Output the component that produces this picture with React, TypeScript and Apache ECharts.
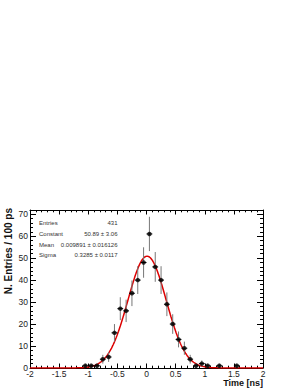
import React, { useEffect, useRef } from "react";
import * as echarts from "echarts";

const binCenters = [-1.05, -0.95, -0.85, -0.75, -0.65, -0.55, -0.45, -0.35, -0.25, -0.15, -0.05, 0.05, 0.15, 0.25, 0.35, 0.45, 0.55, 0.65, 0.75, 0.85, 0.95, 1.05, 1.25, 1.55];
const counts = [1, 1, 1, 4, 5, 16, 27, 26, 34, 40, 48, 61, 46, 40, 29, 20, 13, 9, 4, 1, 2, 1, 1, 1];
const errors = [1, 1, 1, 2, 2.24, 4, 5.2, 5.1, 5.83, 6.32, 6.93, 7.81, 6.78, 6.32, 5.39, 4.47, 3.61, 3, 2, 1, 1.41, 1, 1, 1];
const binHalfWidth = 0.05;

const xTickLabels = ["-2", "-1.5", "-1", "-0.5", "0", "0.5", "1", "1.5", "2"];

const statNames = ["Entries", "Constant", "Mean", "Sigma"];
const statValues = ["431", "50.89 \u00b1 3.06", "0.009891 \u00b1 0.016126", "0.3285 \u00b1 0.0117"];

// Gaussian fit parameters (from the stats box)
const fitConstant = 50.89;
const fitMean = 0.009891;
const fitSigma = 0.3285;

const FONT = "'Liberation Sans', Arial, Helvetica, sans-serif";

function fitCurve(): number[][] {
  const pts: number[][] = [];
  for (let i = 0; i <= 400; i++) {
    const x = -2 + i * 0.01;
    const z = (x - fitMean) / fitSigma;
    pts.push([x, fitConstant * Math.exp(-0.5 * z * z)]);
  }
  return pts;
}

export default function App() {
  const ref = useRef<HTMLDivElement>(null);
  useEffect(() => {
    if (!ref.current) return;
    const chart = echarts.init(ref.current, null, { renderer: "svg" });
    const points = binCenters.map((x, i) => [x, counts[i], errors[i]]);
    const statRowsY = [223.3, 234.2, 244.8, 255.4];
    const graphics: any[] = [];
    statNames.forEach((n, i) => {
      graphics.push({
        type: "text",
        x: 39,
        y: statRowsY[i],
        style: { text: n, fontSize: 6, fontFamily: FONT, fill: "#333", align: "left", verticalAlign: "middle" },
      });
      graphics.push({
        type: "text",
        x: 117.5,
        y: statRowsY[i],
        style: { text: statValues[i], fontSize: 6, fontFamily: FONT, fill: "#333", align: "right", verticalAlign: "middle" },
      });
    });
    graphics.push({
      type: "text",
      x: 8,
      y: 208,
      rotation: Math.PI / 2,
      style: { text: "N. Entries / 100 ps", fontSize: 10, fontWeight: "bold", fontFamily: FONT, fill: "#111", align: "right", verticalAlign: "middle" },
    });
    graphics.push({
      type: "text",
      x: 263,
      y: 382.8,
      style: { text: "Time [ns]", fontSize: 9, fontWeight: "bold", fontFamily: FONT, fill: "#111", align: "right", verticalAlign: "middle" },
    });

    const xCommon = {
      type: "value",
      min: -2,
      max: 2,
      interval: 0.5,
      splitLine: { show: false },
      axisLine: { show: true, onZero: false, lineStyle: { color: "#000", width: 1 } },
      axisTick: { show: true, inside: true, length: 4.5, lineStyle: { color: "#000", width: 1 } },
      minorTick: { show: true, splitNumber: 5, length: 2.3, lineStyle: { color: "#000", width: 1 } },
    };
    const yCommon = {
      type: "value",
      min: 0,
      max: 71.9,
      interval: 10,
      splitLine: { show: false },
      axisLine: { show: true, onZero: false, lineStyle: { color: "#000", width: 1 } },
      axisTick: { show: true, inside: true, length: 6, lineStyle: { color: "#000", width: 1 } },
      minorTick: { show: true, splitNumber: 5, length: 3, lineStyle: { color: "#000", width: 1 } },
    };

    chart.setOption({
      animation: false,
      backgroundColor: "#fff",
      grid: { left: 30, right: 37, top: 210, bottom: 20, containLabel: false },
      xAxis: [
        {
          ...xCommon,
          position: "bottom",
          axisLabel: {
            show: true,
            fontSize: 8.5,
            fontFamily: FONT,
            color: "#222",
            margin: 1,
            formatter: (v: number) => {
              const idx = Math.round((v + 2) / 0.5);
              return Math.abs(v - (-2 + idx * 0.5)) < 1e-6 ? xTickLabels[idx] ?? "" : "";
            },
          },
        },
        { ...xCommon, position: "top", axisLabel: { show: false } },
      ],
      yAxis: [
        {
          ...yCommon,
          position: "left",
          axisLabel: {
            show: true,
            fontSize: 8.5,
            fontFamily: FONT,
            color: "#222",
            margin: 2,
            formatter: (v: number) => (Math.abs(v % 10) < 1e-6 ? String(v) : ""),
          },
        },
        { ...yCommon, position: "right", axisLabel: { show: false } },
      ],
      graphic: graphics,
      series: [
        {
          type: "line",
          data: fitCurve(),
          showSymbol: false,
          symbol: "none",
          smooth: false,
          lineStyle: { color: "#dd0000", width: 1.5 },
          z: 3,
        },
        {
          type: "custom",
          data: points,
          z: 4,
          renderItem: (params: any, api: any) => {
            const x = api.value(0);
            const y = api.value(1);
            const e = api.value(2);
            const top = api.coord([x, y + e]);
            const bot = api.coord([x, Math.max(0, y - e)]);
            const l = api.coord([x - binHalfWidth, y]);
            const r = api.coord([x + binHalfWidth, y]);
            return {
              type: "group",
              children: [
                { type: "line", shape: { x1: top[0], y1: top[1], x2: bot[0], y2: bot[1] }, style: { stroke: "#777", lineWidth: 1 } },
                { type: "line", shape: { x1: l[0], y1: l[1], x2: r[0], y2: r[1] }, style: { stroke: "#000", lineWidth: 1 } },
              ],
            };
          },
        },
        {
          type: "scatter",
          data: points.map((p) => [p[0], p[1]]),
          symbol: "circle",
          symbolSize: 4.5,
          itemStyle: { color: "#000" },
          z: 5,
        },
      ],
    });
    return () => chart.dispose();
  }, []);
  return (
    <div style={{ position: "fixed", left: 0, top: 0, width: 300, height: 388, background: "#fff" }}>
      <div ref={ref} style={{ width: 300, height: 388 }} />
    </div>
  );
}
